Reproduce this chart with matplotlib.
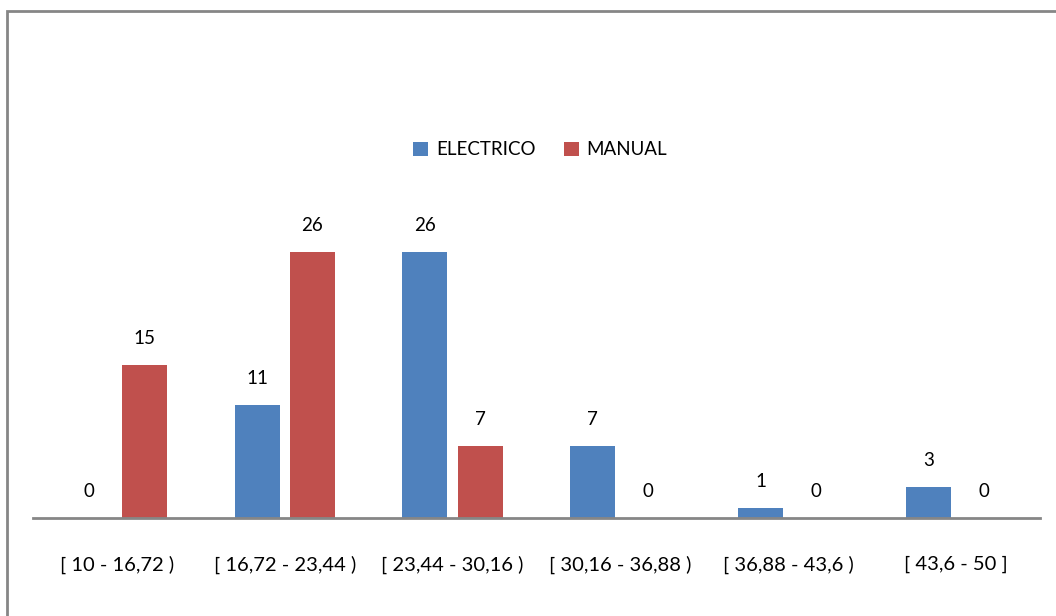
import matplotlib.pyplot as plt
import numpy as np
from matplotlib.patches import Rectangle

categories = ['[ 10 - 16,72 )', '[ 16,72 - 23,44 )', '[ 23,44 - 30,16 )',
              '[ 30,16 - 36,88 )', '[ 36,88 - 43,6 )', '[ 43,6 - 50 ]']
electrico = [0, 11, 26, 7, 1, 3]
manual = [15, 26, 7, 0, 0, 0]

blue = '#4f81bd'
red = '#c0504d'

plt.rcParams['font.family'] = ['Lato', 'DejaVu Sans']

fig = plt.figure(figsize=(10.56, 6.16), dpi=100)
ax = fig.add_axes([33 / 1056, 1 - 518 / 616, 1007 / 1056, 307 / 616])

x = np.arange(len(categories))
w = 0.268
off = 0.165
b1 = ax.bar(x - off, electrico, w, color=blue, label='ELECTRICO')
b2 = ax.bar(x + off, manual, w, color=red, label='MANUAL')

for bars, vals in ((b1, electrico), (b2, manual)):
    for b, v in zip(bars, vals):
        ax.annotate(str(v), (b.get_x() + b.get_width() / 2, v),
                    xytext=(0, 18), textcoords='offset pixels',
                    ha='center', va='bottom', fontsize=13.5)

ax.set_xlim(-0.5, len(categories) - 0.5)
ax.set_ylim(0, 30)
ax.set_xticks(x)
ax.set_xticklabels(categories, fontsize=14.5)
ax.tick_params(axis='x', length=0, pad=27)
ax.set_yticks([])
for s in ['top', 'right', 'left']:
    ax.spines[s].set_visible(False)
ax.spines['bottom'].set_color('#868686')
ax.spines['bottom'].set_linewidth(2)

fig.legend(loc='center', bbox_to_anchor=(540 / 1056, 1 - 150 / 616), ncol=2,
           frameon=False, fontsize=13.5, handlelength=0.8, handleheight=0.8,
           columnspacing=1.5, handletextpad=0.4)

fig.patches.append(Rectangle((7 / 1056, -0.1), 1.2, 1 - 11 / 616 + 0.1,
                             transform=fig.transFigure, fill=False,
                             edgecolor='#868686', linewidth=2))

fig.savefig('out.png', dpi=100)
